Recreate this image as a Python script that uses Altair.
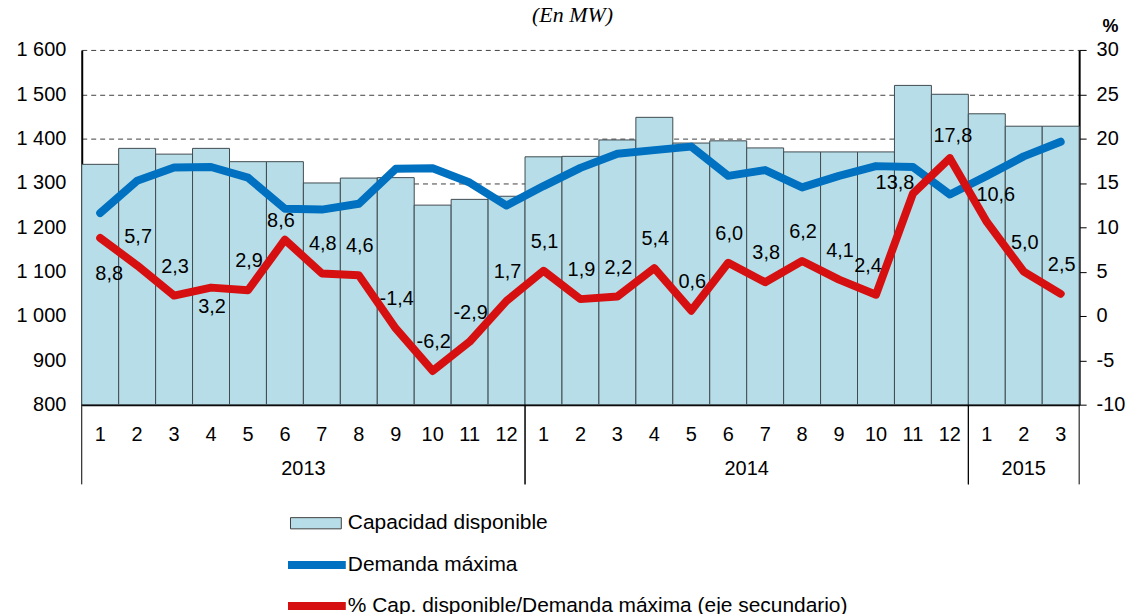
import altair as alt
import pandas as pd

# ---------------- data ----------------
years = ["2013"] * 12 + ["2014"] * 12 + ["2015"] * 3
months = [1, 2, 3, 4, 5, 6, 7, 8, 9, 10, 11, 12,
          1, 2, 3, 4, 5, 6, 7, 8, 9, 10, 11, 12,
          1, 2, 3]
capacidad = [1342, 1378, 1365, 1378, 1348, 1348, 1300, 1311, 1312, 1250, 1263, 1270,
             1359, 1360, 1397, 1448, 1390, 1395, 1379, 1370, 1370, 1370, 1520, 1500,
             1456, 1428, 1428]
demanda = [1232, 1305, 1335, 1336, 1312, 1242, 1240, 1253, 1332, 1333, 1301, 1249,
           1293, 1334, 1366, 1374, 1382, 1316, 1329, 1290, 1316, 1338, 1336, 1274,
           1316, 1360, 1393]
porcentaje = [8.8, 5.7, 2.3, 3.2, 2.9, 8.6, 4.8, 4.6, -1.4, -6.2, -2.9, 1.7,
              5.1, 1.9, 2.2, 5.4, 0.6, 6.0, 3.8, 6.2, 4.1, 2.4, 13.8, 17.8,
              10.6, 5.0, 2.5]

serie_cap = "Capacidad disponible"
serie_dem = "Demanda máxima"
serie_pct = "% Cap. disponible/Demanda máxima (eje secundario)"

df = pd.DataFrame({
    "idx": list(range(len(months))),
    "year": years,
    "month": months,
    "cap": capacidad,
    "dem": demanda,
    "pct": porcentaje,
})

# ---------------- styling ----------------
FONT = "Liberation Sans"
W, H = 1001, 356
FS = 20
LFS = 21
MINUS = "\u2212"

xscale = alt.Scale(domain=[-0.5, len(months) - 0.5], nice=False, zero=False)
lscale = alt.Scale(domain=[800, 1600], nice=False, zero=False)
rscale = alt.Scale(domain=[-10, 30], nice=False, zero=False)

left_axis = alt.Axis(
    orient="left", values=list(range(800, 1601, 100)), title=None,
    labelExpr="replace(format(datum.value, ','), ',', ' ')",
    grid=True, gridDash=[5, 4], gridColor="#404040", gridWidth=1,
    ticks=False, domain=True, domainColor="black", domainWidth=2,
    labelFont=FONT, labelFontSize=FS, labelColor="black", labelPadding=16,
)
right_axis = alt.Axis(
    orient="right", values=list(range(-10, 31, 5)), title="%",
    labelExpr="'' + datum.value",
    titleAngle=0, titleX=31, titleY=-18, titleAlign="center", titleBaseline="alphabetic",
    titleFont=FONT, titleFontSize=18, titleFontWeight="bold", titleColor="black",
    grid=False, ticks=True, tickSize=7, tickColor="black", tickWidth=1,
    domain=True, domainColor="black", domainWidth=2,
    labelFont=FONT, labelFontSize=FS, labelColor="black", labelPadding=10,
)

fill_legend = alt.Legend(
    orient="none", legendX=209, legendY=449, title=None, padding=0,
    symbolType="M-1,-0.22L1,-0.22L1,0.22L-1,0.22Z", symbolSize=2601,
    symbolStrokeColor="#3F3F3F", symbolStrokeWidth=1,
    labelFont=FONT, labelFontSize=LFS, labelColor="black", labelOffset=6,
    labelLimit=800,
)
stroke_legend = alt.Legend(
    orient="none", legendX=222, legendY=503, title=None, padding=0,
    symbolType="M-2.9,0L2.9,0", symbolSize=400, symbolStrokeWidth=8,
    labelFont=FONT, labelFontSize=LFS, labelColor="black", labelOffset=17,
    labelLimit=800, rowPadding=9, direction="vertical",
)
stroke_scale = alt.Scale(domain=[serie_dem, serie_pct], range=["#0070C0", "#D61010"])

base = alt.Chart(df)

# ---------------- left-axis layers ----------------
bars = base.transform_calculate(
    x0="datum.idx - 0.5", x1="datum.idx + 0.5", serie=f"'{serie_cap}'"
).mark_rect(stroke="#3F4A4F", strokeWidth=1).encode(
    x=alt.X("x0:Q", scale=xscale, title=None),
    x2="x1:Q",
    y=alt.Y("cap:Q", scale=lscale, axis=left_axis),
    y2=alt.datum(800),
    fill=alt.Fill("serie:N", scale=alt.Scale(domain=[serie_cap], range=["#B7DEE8"]),
                  legend=fill_legend),
)

blue = base.transform_calculate(serie=f"'{serie_dem}'").mark_line(
    strokeWidth=8, strokeCap="round", strokeJoin="round"
).encode(
    x=alt.X("idx:Q", scale=xscale, title=None),
    y=alt.Y("dem:Q", scale=lscale, axis=left_axis),
    stroke=alt.Stroke("serie:N", scale=stroke_scale, legend=stroke_legend),
)

month_text = base.mark_text(font=FONT, fontSize=FS, color="black").encode(
    x=alt.X("idx:Q", scale=xscale, title=None),
    y=alt.value(H + 30),
    text="month:N",
)

year_text = base.transform_aggregate(
    mid="mean(idx)", groupby=["year"]
).mark_text(font=FONT, fontSize=FS, color="black").encode(
    x=alt.X("mid:Q", scale=xscale, title=None),
    y=alt.value(H + 65),
    text="year:N",
)

year_bounds = base.transform_aggregate(
    lo="min(idx)", hi="max(idx)", groupby=["year"]
).transform_calculate(xl="datum.lo - 0.5", xr="datum.hi + 0.5")

rule_l = year_bounds.mark_rule(color="black", strokeWidth=1).encode(
    x=alt.X("xl:Q", scale=xscale, title=None), y=alt.value(H), y2=alt.value(H + 80)
)
rule_r = year_bounds.mark_rule(color="black", strokeWidth=1).encode(
    x=alt.X("xr:Q", scale=xscale, title=None), y=alt.value(H), y2=alt.value(H + 80)
)

left = alt.layer(bars, blue, month_text, year_text, rule_l, rule_r)

# ---------------- right-axis layers ----------------
red = base.transform_calculate(serie=f"'{serie_pct}'").mark_line(
    strokeWidth=8, strokeCap="round", strokeJoin="round"
).encode(
    x=alt.X("idx:Q", scale=xscale, title=None),
    y=alt.Y("pct:Q", scale=rscale, axis=right_axis),
    stroke=alt.Stroke("serie:N", scale=stroke_scale, legend=stroke_legend),
)

special = {0: (9, 36), 3: (1, 19), 5: (-4, -19), 21: (-8, -29),
           22: (-18, -11), 23: (3, -22), 24: (9, -27)}


def label_layer(test, dx, dy):
    return base.transform_calculate(
        lab=f"replace(replace(format(datum.pct, '.1f'), '.', ','), '{MINUS}', '-')"
    ).transform_filter(test).mark_text(
        font=FONT, fontSize=FS, color="black", dx=dx, dy=dy
    ).encode(
        x=alt.X("idx:Q", scale=xscale, title=None),
        y=alt.Y("pct:Q", scale=rscale, axis=right_axis),
        text="lab:N",
    )


others = "indexof([" + ",".join(str(k) for k in special) + "], datum.idx) < 0"
labels = [label_layer(others, 1, -29)]
for k, (ddx, ddy) in special.items():
    labels.append(label_layer(f"datum.idx == {k}", ddx, ddy))

right = alt.layer(red, *labels)

chart = alt.layer(left, right).resolve_scale(y="independent").properties(
    width=W, height=H,
    title=alt.TitleParams("(En MW)", font="Liberation Serif", fontStyle="italic",
                          fontSize=22, fontWeight="normal", color="black",
                          anchor="middle", dx=-8, dy=13, offset=4),
    padding={"left": 74, "top": 41, "right": 46, "bottom": 210},
    autosize=alt.AutoSizeParams(type="none"),
).configure_axisX(
    labels=False, ticks=False, grid=False, domainColor="black", domainWidth=2, title=None
).configure_view(strokeWidth=0)

chart.save("out.html", embed_options={"renderer": "svg", "actions": False})
